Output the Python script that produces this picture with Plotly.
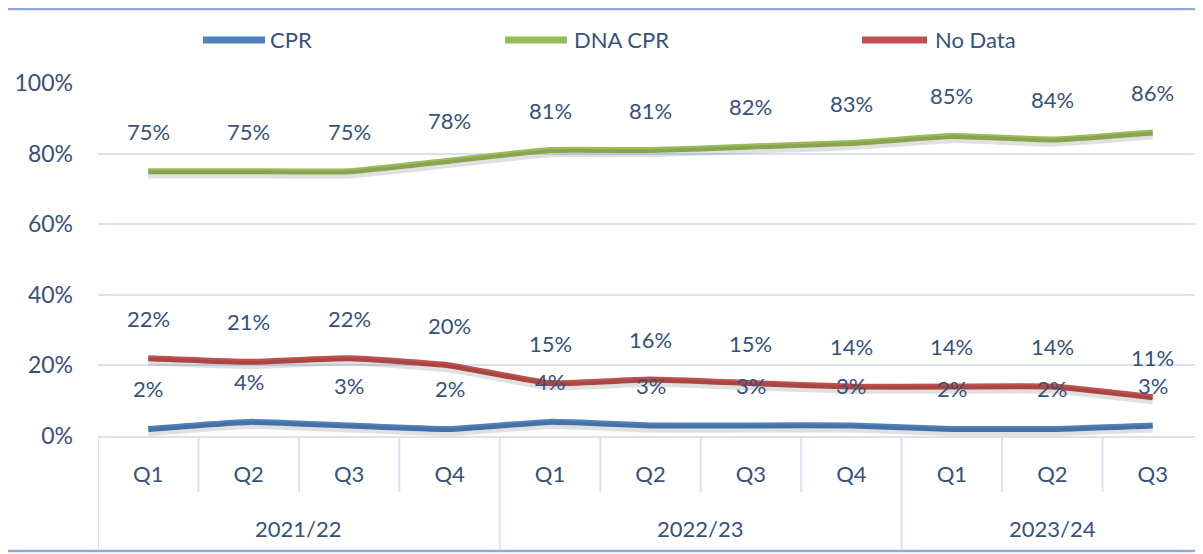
import plotly.graph_objects as go

years = ["2021/22", "2022/23", "2023/24"]
year_quarters = [4, 4, 3]
quarters = ["Q1", "Q2", "Q3", "Q4", "Q1", "Q2", "Q3", "Q4", "Q1", "Q2", "Q3"]
cpr = [2, 4, 3, 2, 4, 3, 3, 3, 2, 2, 3]
dna_cpr = [75, 75, 75, 78, 81, 81, 82, 83, 85, 84, 86]
no_data = [22, 21, 22, 20, 15, 16, 15, 14, 14, 14, 11]
y_ticks = [0, 20, 40, 60, 80, 100]

series_names = ["CPR", "DNA CPR", "No Data"]
series_values = [cpr, dna_cpr, no_data]
series_colors = ["#4F81BD", "#9BBB59", "#C0504D"]

FONT = "Lato, 'Open Sans', sans-serif"
TXT = "#37517A"
GRID = "#D9E2F3"
BORDER = "#8EAADB"
FS = 22

# page body has an 8px margin: design in screen pixels, convert to figure pixels
OFF = 8
SW, SH = 1203, 554
W, H = SW - OFF, SH - OFF
S_LEFT, S_TOP, S_BOTTOM = 98, 83, 436          # screen px of plot area edges
ML, MT = S_LEFT - OFF, S_TOP - OFF
MB = H - (S_BOTTOM - OFF)
MR = 0
PW, PH = W - ML - MR, H - MT - MB


def px_x(sx):
    return (sx - OFF - ML) / PW


def px_y(sy):
    return (S_BOTTOM - sy) / PH


xs = list(range(len(quarters)))

fig = go.Figure()
# soft shadow under lines (drawn on a slightly shifted overlay axis)
for vals in series_values:
    fig.add_trace(go.Scatter(
        x=xs, y=vals, mode="lines", yaxis="y2", showlegend=False, hoverinfo="skip",
        line=dict(color="rgba(0,0,0,0.12)", width=8, shape="spline", smoothing=0.4),
    ))
for name, vals, col in zip(series_names, series_values, series_colors):
    fig.add_trace(go.Scatter(
        x=xs, y=vals, name=name, mode="lines", showlegend=False,
        line=dict(color=col, width=6, shape="spline", smoothing=0.4),
    ))

anns = []
shapes = []
# data labels
for vals in series_values:
    for k, v in enumerate(vals):
        anns.append(dict(x=k, y=v, xref="x", yref="y", text=f"{v}%", showarrow=False,
                         yshift=40, font=dict(family=FONT, size=FS, color=TXT)))

# year group labels and separators
start = 0
for yr, n in zip(years, year_quarters):
    anns.append(dict(x=start + (n - 1) / 2, y=px_y(528), xref="x", yref="paper", text=yr,
                     showarrow=False, yanchor="middle", font=dict(family=FONT, size=FS, color=TXT)))
    shapes.append(dict(type="line", xref="x", yref="paper", x0=start - 0.5, x1=start - 0.5,
                       y0=0, y1=px_y(549), line=dict(color=GRID, width=2)))
    for j in range(1, n):
        xb = start + j - 0.5
        shapes.append(dict(type="line", xref="x", yref="paper", x0=xb, x1=xb,
                           y0=0, y1=px_y(492), line=dict(color=GRID, width=2)))
    start += n

# legend (manual, matching reference spacing)
leg_pos = [(203, 265, 268), (505, 567, 572), (862, 927, 933)]
for (x0, x1, xt), name, col in zip(leg_pos, series_names, series_colors):
    shapes.append(dict(type="line", xref="paper", yref="paper", x0=px_x(x0), x1=px_x(x1),
                       y0=px_y(40), y1=px_y(40), line=dict(color=col, width=7)))
    anns.append(dict(x=px_x(xt), y=px_y(40), xref="paper", yref="paper", text=name,
                     showarrow=False, xanchor="left", yanchor="middle",
                     font=dict(family=FONT, size=FS, color=TXT)))

# outer border lines
shapes.append(dict(type="line", xref="paper", yref="paper", x0=px_x(OFF), x1=px_x(SW),
                   y0=px_y(OFF + 1), y1=px_y(OFF + 1), line=dict(color=BORDER, width=2.5)))
shapes.append(dict(type="line", xref="paper", yref="paper", x0=px_x(OFF), x1=px_x(SW),
                   y0=px_y(551), y1=px_y(551), line=dict(color=BORDER, width=2.5)))

fig.update_layout(
    width=W, height=H,
    margin=dict(l=ML, r=MR, t=MT, b=MB),
    paper_bgcolor="white", plot_bgcolor="white",
    font=dict(family=FONT, size=FS, color=TXT),
    showlegend=False,
    annotations=anns,
    shapes=shapes,
    xaxis=dict(range=[-0.5, 10.5], tickvals=xs, ticktext=quarters, showgrid=False,
               zeroline=False, showline=True, linecolor=GRID, linewidth=2, ticks="",
               ticklabelstandoff=18, automargin=False,
               tickfont=dict(family=FONT, size=FS, color=TXT)),
    yaxis=dict(range=[0, 100], tickvals=y_ticks, ticktext=[f"{t}%" for t in y_ticks],
               showgrid=True, gridcolor=GRID, gridwidth=1.5, zeroline=False, showline=False,
               ticks="", ticklabelstandoff=24, automargin=False,
               tickfont=dict(family=FONT, size=23, color=TXT)),
    yaxis2=dict(range=[0.9, 100.9], overlaying="y", visible=False),
)

fig.write_html("out.html")
